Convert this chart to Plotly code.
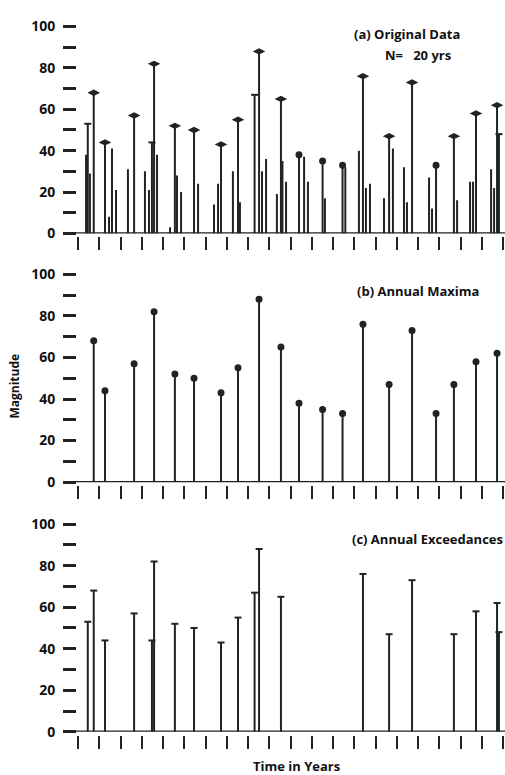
import math
import plotly.graph_objects as go

# ---- data (time in years since start, magnitude) ----
event_time = [0.38, 0.46, 0.56, 0.74,
              1.27, 1.46, 1.60, 1.79,
              2.35, 2.64,
              3.15, 3.34, 3.48, 3.58, 3.72,
              4.33, 4.56, 4.66, 4.85,
              5.46, 5.65,
              6.40, 6.59, 6.73,
              7.29, 7.53, 7.62,
              8.31, 8.52, 8.66, 8.85,
              9.36, 9.55, 9.62, 9.79,
              10.40, 10.64, 10.82,
              11.51, 11.62,
              12.45, 12.58,
              13.22, 13.41, 13.55, 13.74,
              14.40, 14.64, 14.82,
              15.34, 15.48, 15.72,
              16.52, 16.66, 16.85,
              17.69, 17.84,
              18.45, 18.59, 18.73,
              19.44, 19.58, 19.72, 19.81]
event_mag = [38, 53, 29, 68,
             44, 8, 41, 21,
             31, 57,
             30, 21, 44, 82, 38,
             3, 52, 28, 20,
             50, 24,
             14, 24, 43,
             30, 55, 15,
             67, 88, 30, 36,
             19, 65, 35, 25,
             38, 37, 25,
             35, 17,
             33, 32,
             40, 76, 22, 24,
             17, 47, 41,
             32, 15, 73,
             27, 12, 33,
             47, 16,
             25, 25, 58,
             31, 22, 62, 48]
n_years = 20
year_ticks = list(range(0, n_years + 1))
y_major = [0, 20, 40, 60, 80, 100]
panel_titles = ["(a) Original Data", "(b) Annual Maxima", "(c) Annual Exceedances"]

# ---- derived series ----
n = len(event_time)
max_idx = []
for yr in range(n_years):
    idx = [i for i in range(n) if int(math.floor(event_time[i])) == yr]
    max_idx.append(max(idx, key=lambda i: event_mag[i]))
order = sorted(range(n), key=lambda i: -event_mag[i])
exc_idx = sorted(order[:n_years])

both = [i for i in max_idx if i in exc_idx]
max_only = [i for i in max_idx if i not in exc_idx]
exc_only = [i for i in exc_idx if i not in max_idx]

def stems(idx):
    xs, ys = [], []
    for i in idx:
        xs += [event_time[i], event_time[i], None]
        ys += [0, event_mag[i], None]
    return xs, ys

W, H = 505, 775
INK = "#222222"
FONT = "Open Sans"
TXT = "#111111"

fig = go.Figure()

def add_stems(idx, xa, ya, width=2.0):
    xs, ys = stems(idx)
    fig.add_trace(go.Scatter(x=xs, y=ys, mode="lines", xaxis=xa, yaxis=ya,
                             line=dict(color=INK, width=width),
                             hoverinfo="skip", showlegend=False))

def add_markers(idx, xa, ya, symbol, size, lw=0):
    fig.add_trace(go.Scatter(x=[event_time[i] for i in idx], y=[event_mag[i] for i in idx],
                             mode="markers", xaxis=xa, yaxis=ya, cliponaxis=False,
                             marker=dict(symbol=symbol, size=size, color=INK,
                                         line=dict(color=INK, width=lw)),
                             showlegend=False))

# (a) original data
add_stems(range(n), "x", "y")
add_markers(both, "x", "y", "diamond-wide", 9)
add_markers(max_only, "x", "y", "circle", 7)
add_markers(exc_only, "x", "y", "line-ew", 5, 2)
# (b) annual maxima
add_stems(max_idx, "x2", "y2")
add_markers(max_idx, "x2", "y2", "circle", 7)
# (c) annual exceedances
add_stems(exc_idx, "x3", "y3")
add_markers(exc_idx, "x3", "y3", "line-ew", 5, 2)

# pixel geometry: (y of value 0, y of value 100)
panels = [(229, 17), (484, 271), (740, 527)]
x0_px, x20_px = 78, 503
yaxis_px = 76

layout = dict(width=W, height=H, margin=dict(l=0, r=0, t=0, b=0),
              paper_bgcolor="white", plot_bgcolor="white",
              font=dict(family=FONT, color=TXT, size=13))
shapes, annotations = [], []
for k, (p0, p100) in enumerate(panels):
    sfx = "" if k == 0 else str(k + 1)
    layout["xaxis" + sfx] = dict(
        domain=[x0_px / W, x20_px / W], range=[0, n_years],
        anchor="free", position=1 - (p0 + 3) / H,
        tickvals=year_ticks, ticks="outside", ticklen=13, tickwidth=2, tickcolor=INK,
        showticklabels=False, showline=False, showgrid=False, zeroline=False, fixedrange=True)
    layout["yaxis" + sfx] = dict(
        domain=[1 - p0 / H, 1 - p100 / H], range=[0, 100],
        anchor="free", position=yaxis_px / W,
        tickvals=y_major, ticks="outside", ticklen=13, tickwidth=2.5, tickcolor=INK,
        minor=dict(dtick=10, tick0=0, ticks="outside", ticklen=13, tickwidth=2.5, tickcolor=INK),
        ticklabelstandoff=5,
        tickfont=dict(family=FONT, size=14, weight=700, color=TXT),
        showline=False, showgrid=False, zeroline=False, fixedrange=True)
    shapes.append(dict(type="line", xref="paper", yref="y" + sfx,
                       x0=yaxis_px / W, x1=1.0, y0=0, y1=0,
                       line=dict(color=INK, width=2.5)))

def label(text, xpx, ypx, anchor="left", angle=0, size=13):
    annotations.append(dict(text=text, x=xpx / W, y=1 - ypx / H, xref="paper", yref="paper",
                            xanchor=anchor, yanchor="middle", textangle=angle, showarrow=False,
                            font=dict(family=FONT, size=size, weight=700, color=TXT)))

label(panel_titles[0], 352, 25)
label("N=\u00a0\u00a0\u00a020 yrs", 383, 46)
label(panel_titles[1], 355, 288)
label(panel_titles[2], 350, 542)
label("Magnitude", 15, 386, anchor="center", angle=-90, size=12)
label("Time in Years", 296, 775, anchor="center")

layout["shapes"] = shapes
layout["annotations"] = annotations
fig.update_layout(**layout)
fig.write_html("out.html")
